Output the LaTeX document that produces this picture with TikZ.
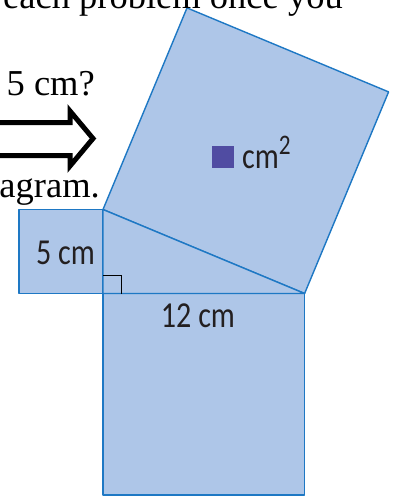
\documentclass[tikz,border=0pt]{standalone}
\usepackage{fontspec}
\setmainfont{Liberation Serif}
\newfontfamily\labelfont{Carlito}
\usetikzlibrary{calc}
\definecolor{PythSquareFill}{RGB}{174,198,232}
\definecolor{PythSquareEdge}{RGB}{30,120,196}
\definecolor{PythAreaMark}{RGB}{80,76,162}
\definecolor{PythLabel}{RGB}{35,31,32}
\newcommand{\squnit}{16.8}
\newcommand{\tall}[1]{\scalebox{0.97}[1.18]{#1}}

\begin{document}
\begin{tikzpicture}[x=1pt,y=-1pt,
   sq/.style={draw=PythSquareEdge,fill=PythSquareFill,line width=1.4pt,line join=round},
   lbl/.style={font=\labelfont\fontsize{31}{31}\selectfont,text=PythLabel,inner sep=0pt},
   txt/.style={font=\fontsize{36.5}{40}\selectfont,inner sep=0pt}]
\useasboundingbox (0,0) rectangle (396,496);
\clip (0,0) rectangle (396,496);
\coordinate (C) at (103,293.5);
\coordinate (A) at ($(C)+(0,-5*\squnit)$);
\coordinate (B) at ($(C)+(12*\squnit,0)$);
% squares on the sides
\draw[sq] (A) -- (C) -- ++(-5*\squnit,0) -- ++(0,-5*\squnit) -- cycle;
\draw[sq] (C) -- (B) -- ++(0,12*\squnit) -- ++(-12*\squnit,0) -- cycle;
\draw[sq] (A) -- (B) -- ++(5*\squnit,-12*\squnit) -- ($(A)+(5*\squnit,-12*\squnit)$) -- cycle;
\draw[sq] (A) -- (C) -- (B) -- cycle;
\draw[black,line width=0.9pt] ($(C)+(0,-18)$) -- ++(18,0) -- ++(0,18);
% labels
\node[lbl,anchor=base east] (shortleg) at (95,264.5) {\tall{5 cm}};
\node[lbl,anchor=base] (longleg) at (198,327) {\tall{12 cm}};
\node[fill=PythAreaMark,minimum size=22pt,inner sep=0pt] (areabox) at (223,157) {};
\node[lbl,anchor=base west] (areaunit) at (242,168) {\tall{cm\raisebox{0.38em}{\fontsize{24}{24}\selectfont 2}}};
% page text and arrow
\node[txt,anchor=base west] (topline) at (3,8) {each problem once you};
\node[txt,anchor=base east] (question) at (95,95) {5 cm?};
\node[txt,anchor=base east] (caption) at (100,197) {agram.};
\draw[line width=5pt,line join=miter] (-10,122.5) -- (70,122.5) -- (70,111)
   -- (93,138.5) -- (70,166) -- (70,155.5) -- (-10,155.5);
\end{tikzpicture}
\end{document}
